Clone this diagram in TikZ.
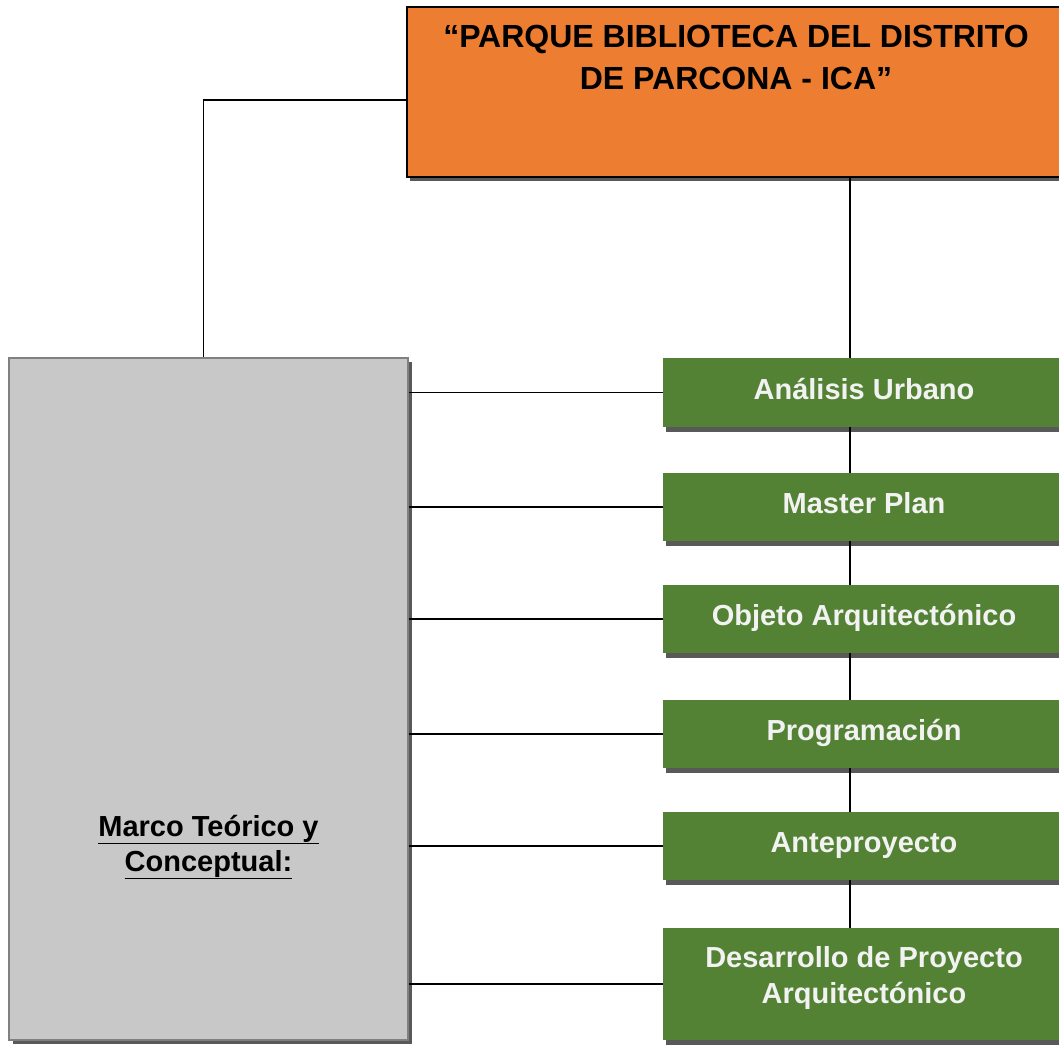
\documentclass[tikz,border=0pt]{standalone}
\usepackage{fontspec}
\setmainfont{Liberation Sans}
\usetikzlibrary{shadows}

\definecolor{titleorange}{HTML}{ED7D31}
\definecolor{stepgreen}{HTML}{548235}
\definecolor{marcogray}{HTML}{C8C8C8}
\definecolor{edgegray}{HTML}{808080}
\definecolor{shade}{HTML}{595959}
\definecolor{steptext}{HTML}{F2F2F2}

\begin{document}
\begin{tikzpicture}[x=1pt,y=-1pt,
  titlebox/.style={draw=black, line width=2pt, fill=titleorange, minimum width=658pt, minimum height=170pt,
    align=center, font=\fontsize{32}{42}\selectfont\bfseries, text height=65pt, text depth=71pt,
    drop shadow={shadow xshift=3pt, shadow yshift=-4pt, fill=shade, opacity=1}},
  marcobox/.style={draw=edgegray, line width=2pt, fill=marcogray, minimum width=399pt, minimum height=682pt,
    align=center, font=\fontsize{29}{35}\selectfont\bfseries, text height=351pt, text depth=7pt,
    drop shadow={shadow xshift=4pt, shadow yshift=-4pt, fill=shade, opacity=1}},
  stepbox/.style={fill=stepgreen, minimum width=402pt, text=steptext, align=center,
    font=\fontsize{29}{36}\selectfont\bfseries, text depth=8pt,
    drop shadow={shadow xshift=3pt, shadow yshift=-5pt, fill=shade, opacity=1}},
  link/.style={draw=black, line width=1.5pt}]
  \useasboundingbox (0,0) rectangle (1059,1044);
  \clip (0,0) rectangle (1059,1044);

  \node[titlebox] (title) at (736,92) {“PARQUE BIBLIOTECA DEL DISTRITO\\DE PARCONA - ICA”};
  \node[marcobox] (marco) at (208.5,699) {\underline{Marco Teórico y}\\\underline{Conceptual:}};

  \foreach \i/\y/\h/\th/\txt in {1/392.5/69/21/Análisis Urbano, 2/507/68/21/Master Plan,
      3/619/68/21/Objeto Arquitectónico, 4/734/68/21/Programación, 5/846/68/21/Anteproyecto,
      6/984/112/46/{Desarrollo de Proyecto\\Arquitectónico}}
    \node[stepbox, minimum height=\h pt, text height=\th pt] (s\i) at (864,\y) {\txt};

  \coordinate (spine) at (850,0);
  \draw[link] ([yshift=-8pt]title.west) -| ([xshift=-5pt]marco.north);
  \draw[link] (title.south -| spine) -- (s1.north -| spine);
  \foreach \i/\j in {1/2,2/3,3/4,4/5,5/6}
    \draw[link] (s\i.south -| spine) -- (s\j.north -| spine);
  \foreach \i in {1,...,6}
    \draw[link] (s\i.west) -- (s\i.west -| marco.east);
\end{tikzpicture}
\end{document}
